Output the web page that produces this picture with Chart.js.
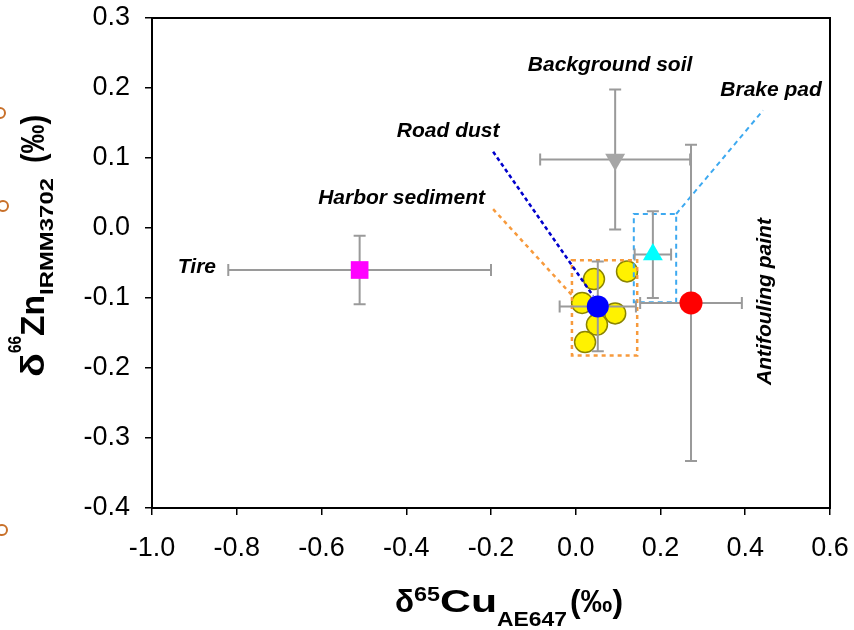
<!DOCTYPE html>
<html>
<head>
<meta charset="utf-8">
<script src="https://cdn.jsdelivr.net/npm/chart.js@4.4.0/dist/chart.umd.min.js"></script>
<style>
  html, body { margin: 0; padding: 0; background: #fff; }
  #wrap { width: 854px; height: 630px; }
</style>
</head>
<body>
<div id="wrap"><canvas id="isoChart" width="854" height="630"></canvas></div>
<script>
// source end-members: mean and error (per mil)
const sourceNames = ['Road dust', 'Tire', 'Background soil', 'Antifouling paint', 'Brake pad'];
const cuMean = [0.052, -0.51, 0.093, 0.272, 0.182];
const cuErr  = [0.09, 0.31, 0.177, 0.12, 0.043];
const znMean = [-0.112, -0.06, 0.098, -0.107, -0.038];
const znErr  = [0.064, 0.049, 0.10, 0.226, 0.062];

// harbor sediment samples
const harborCu = [0.043, 0.121, 0.015, 0.093, 0.050, 0.022];
const harborZn = [-0.073, -0.062, -0.107, -0.122, -0.138, -0.163];

const xTickValues = [-1.0, -0.8, -0.6, -0.4, -0.2, 0.0, 0.2, 0.4, 0.6];
const yTickValues = [-0.4, -0.3, -0.2, -0.1, 0.0, 0.1, 0.2, 0.3];

const FONT = '"Liberation Sans", Arial, sans-serif';

const markerStyle = [
    { shape: 'circle',   color: '#0000FF', radius: 11 },
    { shape: 'rect',     color: '#FF00FF', radius: 12.5 },
    { shape: 'triangle', color: '#A6A6A6', radius: 11.5, rotation: 180 },
    { shape: 'circle',   color: '#FF0000', radius: 11.5 },
    { shape: 'triangle', color: '#00FFFF', radius: 11.5 }
];

// labels, boxes and leader lines, placed in data units
const notes = {
    labels: [
        { text: 'Background soil',   x: 0.081,  y: 0.233 },
        { text: 'Brake pad',         x: 0.461,  y: 0.197 },
        { text: 'Road dust',         x: -0.301, y: 0.138 },
        { text: 'Harbor sediment',   x: -0.411, y: 0.042 },
        { text: 'Tire',              x: -0.894, y: -0.056 },
        { text: 'Antifouling paint', x: 0.447,  y: -0.105, rotate: true }
    ],
    boxes: [
        { x0: -0.009, x1: 0.145, y0: -0.182, y1: -0.046, color: '#F79A3C', dash: [4, 4], width: 2.5 },
        { x0: 0.137,  x1: 0.237, y0: -0.106, y1: 0.020,  color: '#3DA9F0', dash: [5, 4], width: 2 }
    ],
    leaders: [
        { from: [-0.195, 0.027], to: [-0.009, -0.096], color: '#F79A3C', dash: [4, 4], width: 2.5 },
        { from: [-0.195, 0.109], to: [0.041, -0.097],  color: '#0000CC', dash: [4, 3], width: 2.5 },
        { from: [0.237, 0.020],  to: [0.442, 0.168],   color: '#3DA9F0', dash: [5, 4], width: 2 }
    ]
};

function fmt(v) {
    return (Math.abs(v) < 1e-9 ? 0 : v).toFixed(1);
}

function px(chart, x, y) {
    return [chart.scales.x.getPixelForValue(x), chart.scales.y.getPixelForValue(y)];
}

// text with super/subscripts; each part stretched to its measured length
function drawRich(ctx, parts, x, y, angle) {
    ctx.save();
    ctx.translate(x, y);
    ctx.rotate(angle);
    ctx.fillStyle = '#000';
    ctx.textBaseline = 'alphabetic';
    ctx.textAlign = 'left';
    let pos = 0;
    parts.forEach(p => {
        if (p.text) {
            ctx.font = `bold ${p.size}px ${FONT}`;
            const w = ctx.measureText(p.text).width;
            ctx.save();
            ctx.translate(pos, p.dy || 0);
            ctx.scale(p.len / w, 1);
            ctx.fillText(p.text, 0, 0);
            ctx.restore();
        }
        pos += p.len;
    });
    ctx.restore();
}

const datasets = sourceNames.map((name, i) => ({
    label: name,
    data: [{ x: cuMean[i], y: znMean[i] }],
    pointStyle: markerStyle[i].shape,
    pointRadius: markerStyle[i].radius,
    pointRotation: markerStyle[i].rotation || 0,
    backgroundColor: markerStyle[i].color,
    borderColor: markerStyle[i].color,
    borderWidth: 0
}));
datasets.push({
    label: 'Harbor sediment',
    data: harborCu.map((x, i) => ({ x: x, y: harborZn[i] })),
    pointStyle: 'circle',
    pointRadius: 10.5,
    backgroundColor: '#FFF200',
    borderColor: '#8A8400',
    borderWidth: 1.5
});
const harborIndex = datasets.length - 1;

const isoPlugin = {
    id: 'iso',
    afterDatasetDraw(chart, args) {
        if (args.index !== harborIndex) return;
        const ctx = chart.ctx;
        ctx.save();
        notes.boxes.forEach(b => {
            const [x0, y0] = px(chart, b.x0, b.y1);
            const [x1, y1] = px(chart, b.x1, b.y0);
            ctx.strokeStyle = b.color;
            ctx.lineWidth = b.width;
            ctx.setLineDash(b.dash);
            ctx.strokeRect(x0, y0, x1 - x0, y1 - y0);
        });
        notes.leaders.forEach(l => {
            const [ax, ay] = px(chart, l.from[0], l.from[1]);
            const [bx, by] = px(chart, l.to[0], l.to[1]);
            ctx.strokeStyle = l.color;
            ctx.lineWidth = l.width;
            ctx.setLineDash(l.dash);
            ctx.beginPath();
            ctx.moveTo(ax, ay);
            ctx.lineTo(bx, by);
            ctx.stroke();
        });
        // error bars
        ctx.setLineDash([]);
        ctx.strokeStyle = '#9A9A9A';
        ctx.lineWidth = 2;
        const cap = 6;
        for (let i = 0; i < sourceNames.length; i++) {
            const [cx, cy] = px(chart, cuMean[i], znMean[i]);
            const [xl] = px(chart, cuMean[i] - cuErr[i], 0);
            const [xr] = px(chart, cuMean[i] + cuErr[i], 0);
            const yt = chart.scales.y.getPixelForValue(znMean[i] + znErr[i]);
            const yb = chart.scales.y.getPixelForValue(znMean[i] - znErr[i]);
            ctx.beginPath();
            ctx.moveTo(xl, cy); ctx.lineTo(xr, cy);
            ctx.moveTo(xl, cy - cap); ctx.lineTo(xl, cy + cap);
            ctx.moveTo(xr, cy - cap); ctx.lineTo(xr, cy + cap);
            ctx.moveTo(cx, yt); ctx.lineTo(cx, yb);
            ctx.moveTo(cx - cap, yt); ctx.lineTo(cx + cap, yt);
            ctx.moveTo(cx - cap, yb); ctx.lineTo(cx + cap, yb);
            ctx.stroke();
        }
        ctx.restore();
    },
    afterDraw(chart) {
        const ctx = chart.ctx;
        const a = chart.chartArea;
        ctx.save();
        // frame
        ctx.strokeStyle = '#000';
        ctx.lineWidth = 2;
        ctx.strokeRect(a.left, a.top, a.right - a.left, a.bottom - a.top);

        // category labels
        ctx.fillStyle = '#000';
        ctx.font = `italic bold 21px ${FONT}`;
        ctx.textAlign = 'center';
        ctx.textBaseline = 'middle';
        notes.labels.forEach(l => {
            const [lx, ly] = px(chart, l.x, l.y);
            if (l.rotate) {
                ctx.save();
                ctx.translate(lx, ly);
                ctx.rotate(-Math.PI / 2);
                ctx.fillText(l.text, 0, 0);
                ctx.restore();
            } else {
                ctx.fillText(l.text, lx, ly);
            }
        });

        // axis titles
        drawRich(ctx, [
            { text: 'δ', size: 32, len: 19 },
            { text: '65', size: 20, len: 26, dy: -11 },
            { text: 'Cu', size: 32, len: 57 },
            { text: 'AE647', size: 20, len: 70, dy: 14 },
            { len: 3 },
            { text: '(‰)', size: 32, len: 53 }
        ], 395, 612, 0);
        drawRich(ctx, [
            { text: 'δ', size: 34, len: 24 },
            { text: '66', size: 19, len: 17, dy: -23 },
            { text: 'Zn', size: 34, len: 41 },
            { text: 'IRMM3702', size: 19, len: 117, dy: 9 },
            { len: 15 },
            { text: '(‰)', size: 34, len: 48 }
        ], 44, 377, -Math.PI / 2);

        // slide edge decorations
        ctx.strokeStyle = '#C8702A';
        ctx.lineWidth = 2;
        [[0, 113], [3, 206], [2, 530]].forEach(p => {
            ctx.beginPath();
            ctx.arc(p[0], p[1], 5, 0, Math.PI * 2);
            ctx.stroke();
        });
        ctx.restore();
    }
};

const tickFont = { family: FONT, size: 27 };

new Chart(document.getElementById('isoChart'), {
    type: 'scatter',
    data: { datasets: datasets },
    plugins: [isoPlugin],
    options: {
        responsive: false,
        animation: false,
        events: [],
        layout: { padding: { left: 0, top: 18, right: 24, bottom: 0 } },
        plugins: { legend: { display: false }, tooltip: { enabled: false } },
        scales: {
            x: {
                type: 'linear',
                min: -1.0,
                max: 0.6,
                afterBuildTicks: s => { s.ticks = xTickValues.map(v => ({ value: v })); },
                afterFit: s => { s.height = 122; s.paddingLeft = 0; s.paddingRight = 0; },
                ticks: { callback: v => fmt(v), font: tickFont, color: '#000', padding: 17, maxRotation: 0, autoSkip: false },
                grid: { drawOnChartArea: false, drawTicks: true, tickLength: 7, color: '#000', lineWidth: 1.5 },
                border: { color: '#000', width: 2 }
            },
            y: {
                type: 'linear',
                min: -0.4,
                max: 0.3,
                afterBuildTicks: s => { s.ticks = yTickValues.map(v => ({ value: v })); },
                afterFit: s => { s.width = 152; s.paddingTop = 0; s.paddingBottom = 0; },
                ticks: { callback: v => fmt(v), font: tickFont, color: '#000', padding: 15, autoSkip: false },
                grid: { drawOnChartArea: false, drawTicks: true, tickLength: 7, color: '#000', lineWidth: 1.5 },
                border: { color: '#000', width: 2 }
            }
        }
    }
});
</script>
</body>
</html>
